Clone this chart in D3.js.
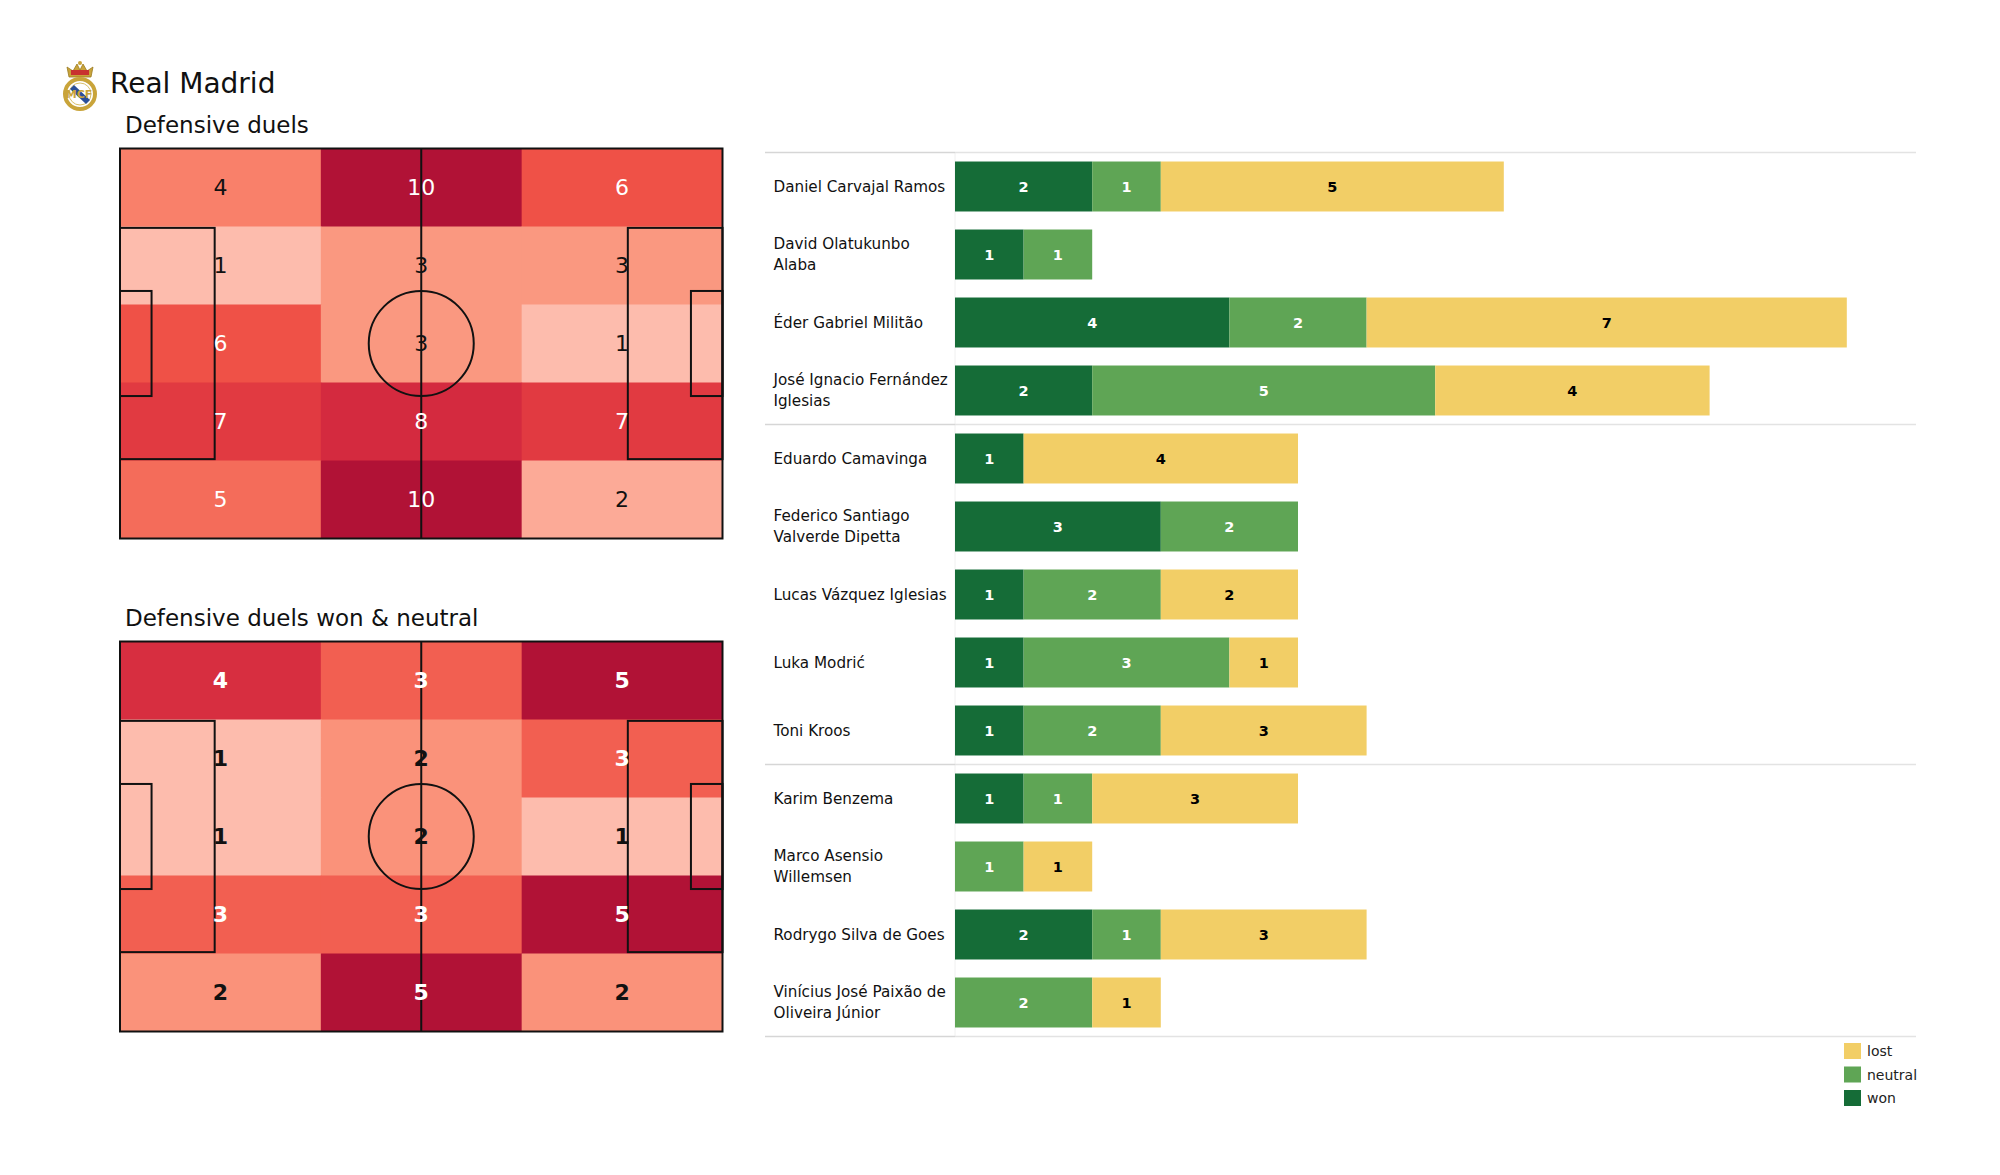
<!DOCTYPE html>
<html>
<head>
<meta charset="utf-8">
<script src="https://cdn.jsdelivr.net/npm/d3@7"></script>
<style>
  html, body { margin: 0; padding: 0; background: #fff; }
  svg { display: block; font-family: "DejaVu Sans", sans-serif; }
</style>
</head>
<body>
<svg id="chart" width="2000" height="1175"></svg>
<script>
// ---------------- DATA ----------------
const teamName = "Real Madrid";
const pitchTitles = ["Defensive duels", "Defensive duels won & neutral"];
// 5 rows (top → bottom) x 3 columns (left → right)
const duelsAll = [
  [4, 10, 6],
  [1, 3, 3],
  [6, 3, 1],
  [7, 8, 7],
  [5, 10, 2]
];
const duelsWonNeutral = [
  [4, 3, 5],
  [1, 2, 3],
  [1, 2, 1],
  [3, 3, 5],
  [2, 5, 2]
];
const players = [
  "Daniel Carvajal Ramos",
  "David Olatukunbo\nAlaba",
  "Éder Gabriel Militão",
  "José Ignacio Fernández\nIglesias",
  "Eduardo Camavinga",
  "Federico Santiago\nValverde Dipetta",
  "Lucas Vázquez Iglesias",
  "Luka Modrić",
  "Toni Kroos",
  "Karim Benzema",
  "Marco Asensio\nWillemsen",
  "Rodrygo Silva de Goes",
  "Vinícius José Paixão de\nOliveira Júnior"
];
const positionGroup = ["DF","DF","DF","DF","MF","MF","MF","MF","MF","FW","FW","FW","FW"];
const won     = [2, 1, 4, 2, 1, 3, 1, 1, 1, 1, 0, 2, 0];
const neutral = [1, 1, 2, 5, 0, 2, 2, 3, 2, 1, 1, 1, 2];
const lost    = [5, 0, 7, 4, 4, 0, 2, 1, 3, 3, 1, 3, 1];
const seriesKeys = ["won", "neutral", "lost"];
const legendOrder = ["lost", "neutral", "won"];

// ---------------- STYLE ----------------
const seriesColor = { won: "#156C37", neutral: "#5FA555", lost: "#F2CE66" };
const seriesText  = { won: "#ffffff", neutral: "#ffffff", lost: "#000000" };
const heatStops  = [0, 0.111, 0.222, 0.333, 0.444, 0.556, 0.667, 0.778, 1];
const heatColors = ["#FDBCAD", "#FCAA97", "#FA9880", "#F9806A", "#F46C5A", "#EF5147", "#E13A41", "#D42A3F", "#B11236"];

const svg = d3.select("#chart");

// ---------------- HEADER ----------------
(function drawCrest() {
  const g = svg.append("g").attr("transform", "translate(80,94)");
  // crown
  g.append("path")
    .attr("d", "M-11,-17 L-13,-27 L-7,-23 L-3,-30 L0,-24 L3,-30 L7,-23 L13,-27 L11,-17 Z")
    .attr("fill", "#C9A43A").attr("stroke", "#9b7a20").attr("stroke-width", 0.8);
  g.append("rect").attr("x", -9).attr("y", -24).attr("width", 18).attr("height", 5).attr("fill", "#C8202F").attr("opacity", 0.85);
  g.append("circle").attr("cx", 0).attr("cy", -31).attr("r", 2).attr("fill", "#C9A43A");
  // ring
  g.append("circle").attr("r", 15).attr("fill", "#fff").attr("stroke", "#C9A43A").attr("stroke-width", 4);
  g.append("circle").attr("r", 11).attr("fill", "none").attr("stroke", "#d8bf6a").attr("stroke-width", 1);
  // blue band
  g.append("path").attr("d", "M-10,-5 L-6,-9 L10,6 L6,10 Z").attr("fill", "#2A4F9A");
  g.append("text").attr("x", -1).attr("y", 4).attr("text-anchor", "middle")
    .attr("font-size", 11).attr("font-weight", "bold").attr("fill", "#C9A43A").text("MCF");
})();

svg.append("text").attr("x", 110).attr("y", 93).attr("font-size", 28).attr("fill", "#111").text(teamName);

// ---------------- PITCHES ----------------
function drawPitch(y0, title, grid, bold) {
  const px = d3.scaleLinear().domain([0, 105]).range([120, 722.5]);
  const py = d3.scaleLinear().domain([0, 68]).range([y0, y0 + 390]);
  svg.append("text").attr("x", 125).attr("y", y0 - 15.5).attr("font-size", 23).attr("fill", "#111").text(title);

  const nRows = grid.length, nCols = grid[0].length;
  const flat = grid.flat();
  const vmin = d3.min(flat), vmax = d3.max(flat);
  const tScale = d3.scaleLinear().domain([vmin, vmax]).range([0, 1]);
  const color = d3.scaleLinear().domain(heatStops).range(heatColors).interpolate(d3.interpolateRgb);
  const colW = 105 / nCols, rowH = 68 / nRows;

  const cells = [];
  grid.forEach((row, r) => row.forEach((v, c) => cells.push({ r, c, v })));

  const g = svg.append("g");
  g.selectAll("rect.cell").data(cells).join("rect")
    .attr("class", "cell")
    .attr("x", d => px(d.c * colW))
    .attr("y", d => py(d.r * rowH))
    .attr("width", px(colW) - px(0) + 0.5)
    .attr("height", py(rowH) - py(0) + 0.5)
    .attr("fill", d => color(tScale(d.v)));

  // pitch lines
  const L = g.append("g").attr("fill", "none").attr("stroke", "#111").attr("stroke-width", 2);
  L.append("rect").attr("x", px(0)).attr("y", py(0)).attr("width", px(105) - px(0)).attr("height", py(68) - py(0));
  L.append("line").attr("x1", px(52.5)).attr("x2", px(52.5)).attr("y1", py(0)).attr("y2", py(68));
  L.append("ellipse").attr("cx", px(52.5)).attr("cy", py(34))
    .attr("rx", px(9.15) - px(0)).attr("ry", py(9.15) - py(0));
  // penalty areas
  L.append("rect").attr("x", px(0)).attr("y", py(34 - 20.16)).attr("width", px(16.5) - px(0)).attr("height", py(40.32) - py(0));
  L.append("rect").attr("x", px(105 - 16.5)).attr("y", py(34 - 20.16)).attr("width", px(16.5) - px(0)).attr("height", py(40.32) - py(0));
  // six-yard boxes
  L.append("rect").attr("x", px(0)).attr("y", py(34 - 9.16)).attr("width", px(5.5) - px(0)).attr("height", py(18.32) - py(0));
  L.append("rect").attr("x", px(105 - 5.5)).attr("y", py(34 - 9.16)).attr("width", px(5.5) - px(0)).attr("height", py(18.32) - py(0));

  g.selectAll("text.val").data(cells).join("text")
    .attr("class", "val")
    .attr("x", d => px((d.c + 0.5) * colW))
    .attr("y", d => py((d.r + 0.5) * rowH))
    .attr("dy", "0.36em")
    .attr("text-anchor", "middle")
    .attr("font-size", 22)
    .attr("font-weight", bold ? "bold" : "normal")
    .attr("fill", d => tScale(d.v) >= 0.4 ? "#ffffff" : "#111111")
    .text(d => d.v);
}

drawPitch(148.5, pitchTitles[0], duelsAll, false);
drawPitch(641.5, pitchTitles[1], duelsWonNeutral, true);

// ---------------- BAR CHART ----------------
const rows = players.map((p, i) => ({ player: p, won: won[i], neutral: neutral[i], lost: lost[i], group: positionGroup[i] }));
const maxTotal = 13;
const x = d3.scaleLinear().domain([0, maxTotal]).range([955, 955 + 13 * 68.6]);
const y = d3.scaleBand().domain(players).range([152.5, 1036.5]).paddingInner(0.265).paddingOuter(0.1325);
const stack = d3.stack().keys(seriesKeys)(rows);

const bars = svg.append("g");
// faint axis line
bars.append("line").attr("x1", 955).attr("x2", 955).attr("y1", 152.5).attr("y2", 1036.5)
  .attr("stroke", "#f0f0f0").attr("stroke-width", 1);

// separators
const sepY = [y.range()[0]];
rows.forEach((d, i) => { if (i > 0 && d.group !== rows[i - 1].group) sepY.push(y(d.player) - y.step() * y.paddingInner() / 2); });
sepY.push(y.range()[1]);
sepY.forEach(sy => {
  bars.append("line").attr("x1", 765).attr("x2", 955).attr("y1", sy).attr("y2", sy).attr("stroke", "#d6d6d6").attr("stroke-width", 1.5);
  bars.append("line").attr("x1", 955).attr("x2", 1916).attr("y1", sy).attr("y2", sy).attr("stroke", "#e3e3e3").attr("stroke-width", 1.5);
});

stack.forEach(layer => {
  const key = layer.key;
  const lg = bars.append("g");
  lg.selectAll("rect").data(layer.filter(d => d[1] - d[0] > 0)).join("rect")
    .attr("x", d => x(d[0]))
    .attr("y", d => y(d.data.player))
    .attr("width", d => x(d[1]) - x(d[0]))
    .attr("height", y.bandwidth())
    .attr("fill", seriesColor[key]);
  lg.selectAll("text").data(layer.filter(d => d[1] - d[0] > 0)).join("text")
    .attr("x", d => (x(d[0]) + x(d[1])) / 2)
    .attr("y", d => y(d.data.player) + y.bandwidth() / 2)
    .attr("dy", "0.36em")
    .attr("text-anchor", "middle")
    .attr("font-size", 14.5)
    .attr("font-weight", "bold")
    .attr("fill", seriesText[key])
    .text(d => d[1] - d[0]);
});

// player names
const names = bars.append("g");
rows.forEach(d => {
  const lines = d.player.split("\n");
  const cy = y(d.player) + y.bandwidth() / 2;
  const t = names.append("text").attr("font-size", 15.2).attr("fill", "#111");
  lines.forEach((ln, k) => {
    t.append("tspan").attr("x", 773.5)
      .attr("y", cy + (k - (lines.length - 1) / 2) * 21)
      .attr("dy", "0.36em")
      .text(ln);
  });
});

// legend
const legend = svg.append("g");
legendOrder.forEach((k, i) => {
  const ly = 1043 + i * 23.5;
  legend.append("rect").attr("x", 1844).attr("y", ly).attr("width", 17).attr("height", 16).attr("fill", seriesColor[k]);
  legend.append("text").attr("x", 1867).attr("y", ly + 8).attr("dy", "0.36em")
    .attr("font-size", 14).attr("fill", "#222").text(k);
});
</script>
</body>
</html>
